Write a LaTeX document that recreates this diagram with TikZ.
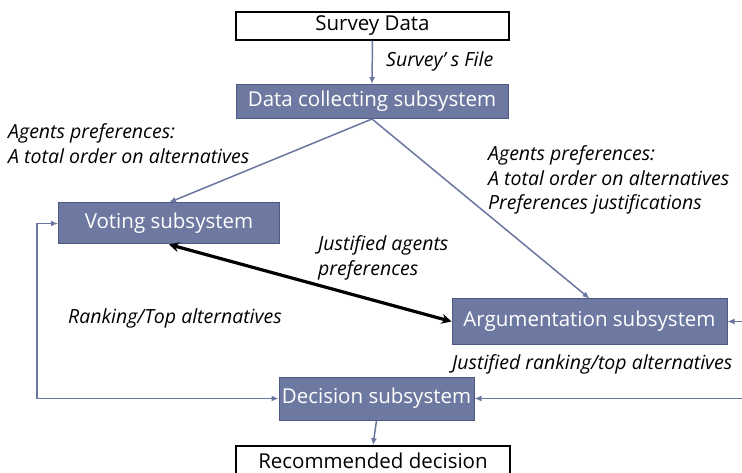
\documentclass[tikz,border=0pt]{standalone}
\usepackage{fontspec}
\setmainfont{Open Sans}
\usetikzlibrary{arrows.meta}

\definecolor{slatefill}{RGB}{110,121,161}
\definecolor{slateline}{RGB}{78,90,132}
\definecolor{flowcolor}{RGB}{106,118,160}

\tikzstyle{subsystem}=[draw=slateline,fill=slatefill,line width=1pt,text=white,inner sep=0pt,font=\fontsize{20.5}{24}\selectfont]
\tikzstyle{endpoint}=[draw=black,fill=white,line width=1.5pt,inner sep=0pt,font=\fontsize{20.5}{24}\selectfont]
\tikzstyle{note}=[anchor=west,align=left,inner sep=0pt,font=\fontsize{19.5}{24.5}\selectfont\itshape]
\tikzstyle{flow}=[draw=flowcolor,line width=1.5pt,-{Latex[length=7pt,width=6pt]}]
\tikzstyle{loopflow}=[draw=flowcolor,line width=1.5pt,{Latex[length=7pt,width=6pt]}-{Latex[length=7pt,width=6pt]}]
\tikzstyle{exchange}=[draw=black,line width=3.2pt,{Stealth[length=10pt,width=10pt]}-{Stealth[length=10pt,width=10pt]}]

\begin{document}
\begin{tikzpicture}[x=1pt,y=-1pt]
      \useasboundingbox (0,0) rectangle (742,473);
      \clip (0,0) rectangle (742,473);
      %nodes
      \foreach \nodename/\x/\y/\w/\h/\kind/\txt in {
        survey/372.5/26/273/28/endpoint/Survey Data,
        collect/372/101.5/272/34/subsystem/Data collecting subsystem,
        voting/169/223.5/221/41/subsystem/Voting subsystem,
        argument/589.5/321.5/275/45/subsystem/Argumentation subsystem,
        decision/376.5/398.5/195/43/subsystem/Decision subsystem,
        recommend/373/461/274/30/endpoint/Recommended decision}
      {
        \node[\kind, minimum width=\w pt, minimum height=\h pt] (\nodename) at (\x,\y) {\txt};
      };
      \coordinate (leftloop) at (37,300);
      \coordinate (rightloop) at (760,360);
      %labels
      \node[note] (filelabel) at (386,61) {Survey’ s File};
      \node[note] (votelabel) at (8,143.5) {Agents preferences:\\A total order on alternatives};
      \node[note] (arglabel) at (488,180) {Agents preferences:\\A total order on alternatives\\Preferences justifications};
      \node[note] (justlabel) at (318,258) {Justified agents\\preferences};
      \node[note] (ranklabel) at (68,318) {Ranking/Top alternatives};
      \node[note] (toplabel) at (452,364) {Justified ranking/top alternatives};
      %edges
      \path
      \foreach \startnode/\endnode in {
        survey.south/collect.north, collect.south/voting.north,
        collect.south/argument.north, decision.south/recommend.north}
      {
        (\startnode) edge[flow] (\endnode)
      };
      \draw[loopflow] (voting.west) -| (leftloop) |- (decision.west);
      \draw[loopflow] (argument.east) -| (rightloop) |- (decision.east);
      \draw[exchange] (voting.south) -- (argument.west);
    \end{tikzpicture}
\end{document}
